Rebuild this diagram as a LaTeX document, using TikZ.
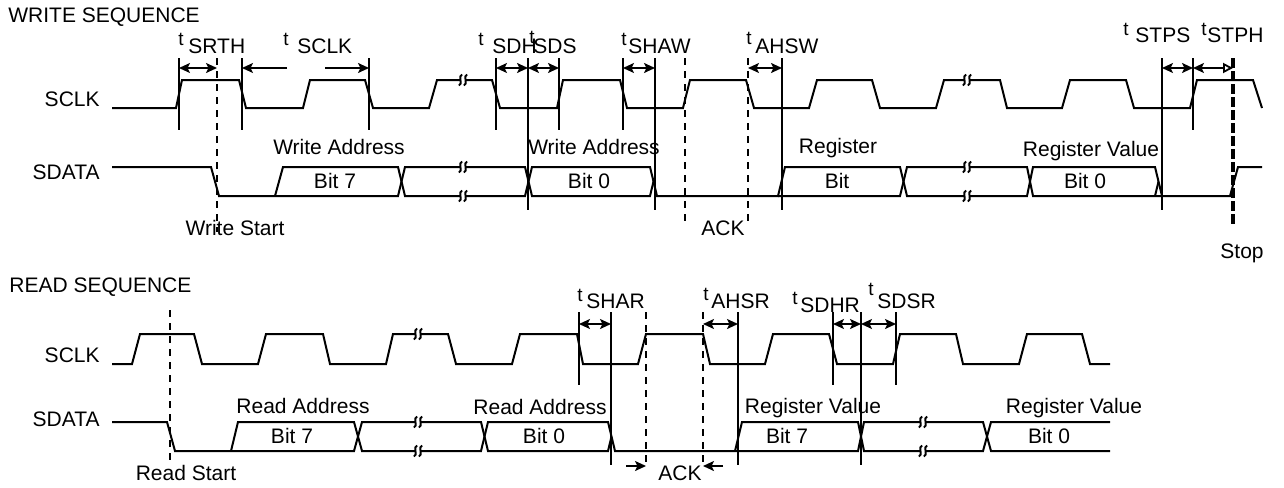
\documentclass[tikz,border=0pt]{standalone}
\usepackage{fontspec}
\setmainfont{Liberation Sans}
\usetikzlibrary{arrows.meta}
\begin{document}
\begin{tikzpicture}[x=0.5pt,y=-0.5pt,
  wave/.style={line width=1pt},
  tick/.style={line width=0.7pt},
  dsh/.style={line width=0.8pt,dash pattern=on 3.5pt off 3pt},
  stopdash/.style={line width=1.6pt,dash pattern=on 5pt off 1.5pt},
  tipa/.tip={Stealth[length=5.5pt,width=5pt,inset=1.2pt]},
  dim/.style={line width=0.9pt,tipa-tipa},
  lbl/.style={font=\fontsize{10.5}{12}\selectfont,inner sep=0pt,anchor=base},
  tl/.style={font=\fontsize{9.5}{11}\selectfont,inner sep=0pt,anchor=base west},
  nl/.style={font=\fontsize{10.5}{12}\selectfont,inner sep=0pt,anchor=base west},
  brk/.pic={\draw[line width=0.95pt] (1.6,-5.5) .. controls (-3.2,-4.5) and (3.2,4.5) .. (-1.6,5.5);
            \draw[line width=0.95pt] (6.6,-5.5) .. controls (1.8,-4.5) and (8.2,4.5) .. (3.4,5.5);}
]
\useasboundingbox (0,0) rectangle (1284,487);

% ---------------- titles and signal names
\node[nl] (wtitle) at (8,23) {WRITE SEQUENCE};
\node[nl] (rtitle) at (9,292) {READ SEQUENCE};
\node[lbl,anchor=base east] (wsclk) at (100,106) {SCLK};
\node[lbl,anchor=base east] (wsdata) at (100,179) {SDATA};
\node[lbl,anchor=base east] (rsclk) at (100,362) {SCLK};
\node[lbl,anchor=base east] (rsdata) at (100,426) {SDATA};

% ---------------- WRITE SCLK
\draw[wave] (112,108) -- (176,108) -- (182,80) -- (239,80) -- (246,108) -- (303,108) -- (310,80)
  -- (365,80) -- (373,108) -- (429,108) -- (437,80) -- (460.5,80);
\pic at (460.5,80) {brk};
\draw[wave] (465.5,80) -- (492,80) -- (500,108) -- (557,108) -- (563,80) -- (620,80) -- (627,108)
  -- (683,108) -- (690,80) -- (746,80) -- (754,108) -- (809,108) -- (817,80) -- (872,80) -- (880,108)
  -- (936,108) -- (944,80) -- (964.5,80);
\pic at (964.5,80) {brk};
\draw[wave] (969.5,80) -- (1000,80) -- (1007,108) -- (1062,108) -- (1070,80) -- (1126,80) -- (1134,108)
  -- (1190,108) -- (1197,80) -- (1253,80) -- (1262,108);

% ---------------- WRITE SDATA
\draw[wave] (112,167) -- (211,167) -- (219,196) -- (398,196) -- (405,167) -- (460.5,167);
\draw[wave] (275,196) -- (283,167) -- (398,167) -- (405,196) -- (460.5,196);
\pic at (460.5,167) {brk};
\pic at (460.5,196) {brk};
\draw[wave] (465.5,167) -- (525,167) -- (532,196) -- (650,196) -- (653.5,181.5);
\draw[wave] (465.5,196) -- (525,196) -- (532,167) -- (650,167) -- (657,196) -- (778,196) -- (785,167)
  -- (900,167) -- (907,196) -- (964.5,196);
\draw[wave] (778,196) -- (900,196) -- (907,167) -- (964.5,167);
\pic at (964.5,167) {brk};
\pic at (964.5,196) {brk};
\draw[wave] (969.5,167) -- (1027,167) -- (1033,196) -- (1230,196) -- (1238,167) -- (1262,167);
\draw[wave] (969.5,196) -- (1027,196) -- (1033,167) -- (1155,167) -- (1162,196);
\draw[wave] (1155,196) -- (1158.5,181.5);

% ---------------- WRITE timing markers
\foreach \x in {179,242,369,496,559,623,1193} \draw[tick] (\x,58) -- (\x,130);
\foreach \x in {528,655,782,1162} \draw[tick] (\x,58) -- (\x,210);
\draw[dsh] (217,58) -- (217,232);
\draw[dsh] (685,58) -- (685,222);
\draw[dsh] (748,58) -- (748,222);
\draw[stopdash] (1233,58) -- (1233,227);

\foreach \n/\x in {a/179,b/217,c/242,d/369,e/496,f/528,g/559,h/623,i/655,k/748,l/782,m/1162,n/1193,o/1233}
  \coordinate (w\n) at (\x,68);
\coordinate (wc1) at (287,68);
\coordinate (wd1) at (325,68);
\draw[dim] (wa) -- (wb);
\draw[line width=0.9pt,-tipa] (wc1) -- (wc);
\draw[line width=0.9pt,-tipa] (wd1) -- (wd);
\draw[dim] (we) -- (wf);
\draw[dim] (wf) -- (wg);
\draw[dim] (wh) -- (wi);
\draw[dim] (wk) -- (wl);
\draw[dim] (wm) -- (wn);
\draw[line width=0.9pt,tipa-{Triangle[open,length=5pt,width=5pt]}] (wn) -- (wo);

% ---------------- WRITE timing labels
\node[tl] (t1) at (178,45) {t};   \node[nl] (n1) at (188,54) {SRTH};
\node[tl] (t2) at (283,45) {t};   \node[nl] (n2) at (297,54) {SCLK};
\node[tl] (t3) at (478,45) {t};   \node[nl] (n3) at (492,54) {SDH};
\node[tl] (t4) at (529,43) {t};   \node[nl] (n4) at (533,54) {SDS};
\node[tl] (t5) at (621,45) {t};   \node[nl] (n5) at (628,54) {SHAW};
\node[tl] (t6) at (746,44) {t};   \node[nl] (n6) at (755,53) {AHSW};
\node[tl] (t7) at (1123,35) {t};  \node[nl] (n7) at (1135,42) {STPS};
\node[tl] (t8) at (1201,35) {t};  \node[nl] (n8) at (1207,42) {STPH};

% ---------------- WRITE data labels
\node[lbl] (wa1) at (339,154) {Write Address};
\node[lbl] (wb7) at (335,188) {Bit 7};
\node[lbl] (wa2) at (594,154) {Write Address};
\node[lbl] (wb0) at (589,188) {Bit 0};
\node[lbl] (wr1) at (838,153) {Register};
\node[lbl] (wrb) at (837,188) {Bit};
\node[lbl] (wr2) at (1091,156) {Register Value};
\node[lbl] (wrb0) at (1085,188) {Bit 0};
\node[lbl] (wst) at (235,235) {Write Start};
\node[lbl] (wack) at (723,235) {ACK};
\node[lbl] (wstop) at (1242,258) {Stop};

% ---------------- READ SCLK
\draw[wave] (112,364) -- (132,364) -- (140,334) -- (194,334) -- (202,364) -- (258,364) -- (266,334)
  -- (323,334) -- (330,364) -- (386,364) -- (393,334) -- (415.5,334);
\pic at (415.5,334) {brk};
\draw[wave] (420.5,334) -- (448,334) -- (456,364) -- (512,364) -- (520,334) -- (577,334) -- (583,364)
  -- (638,364) -- (646,334) -- (703,334) -- (710,364) -- (765,364) -- (773,334) -- (829,334) -- (837,364)
  -- (893,364) -- (900,334) -- (956,334) -- (963,364) -- (1019,364) -- (1027,334) -- (1082,334)
  -- (1090,364) -- (1110,364);

% ---------------- READ SDATA
\draw[wave] (112,422) -- (167,422) -- (175,451) -- (354,451) -- (362,422) -- (415.5,422);
\draw[wave] (231,451) -- (238,422) -- (354,422) -- (362,451) -- (415.5,451);
\pic at (415.5,422) {brk};
\pic at (415.5,451) {brk};
\draw[wave] (420.5,422) -- (481,422) -- (488,451) -- (608,451) -- (611.5,436.5);
\draw[wave] (420.5,451) -- (481,451) -- (488,422) -- (608,422) -- (615,451) -- (735,451) -- (858,451)
  -- (864,422) -- (920.5,422);
\draw[wave] (735,451) -- (742,422) -- (858,422) -- (864,451) -- (920.5,451);
\pic at (920.5,422) {brk};
\pic at (920.5,451) {brk};
\draw[wave] (925.5,422) -- (983,422) -- (991,451) -- (1110,451);
\draw[wave] (925.5,451) -- (983,451) -- (991,422) -- (1110,422);

% ---------------- READ timing markers
\foreach \x in {579,833,896} \draw[tick] (\x,312) -- (\x,385);
\foreach \x in {611,738,861} \draw[tick] (\x,312) -- (\x,465);
\draw[dsh] (170,310) -- (170,466);
\draw[dsh] (646,312) -- (646,468);
\draw[dsh] (703,312) -- (703,468);

\foreach \n/\x in {1/579,2/611,4/703,5/738,6/833,7/861,8/896}
  \coordinate (r\n) at (\x,324);
\draw[dim] (r1) -- (r2);
\draw[dim] (r4) -- (r5);
\draw[dim] (r6) -- (r7);
\draw[dim] (r7) -- (r8);
\coordinate (ra1) at (626,466);
\coordinate (ra2) at (646,466);
\coordinate (rb1) at (723,466);
\coordinate (rb2) at (703,466);
\draw[line width=0.9pt,-tipa] (ra1) -- (ra2);
\draw[line width=0.9pt,-tipa] (rb1) -- (rb2);

% ---------------- READ timing labels
\node[tl] (u1) at (577,301) {t};  \node[nl] (m1) at (586,308) {SHAR};
\node[tl] (u2) at (703,300) {t};  \node[nl] (m2) at (711,308) {AHSR};
\node[tl] (u3) at (792,304) {t};  \node[nl] (m3) at (800,312) {SDHR};
\node[tl] (u4) at (868,295) {t};  \node[nl] (m4) at (877,308) {SDSR};

% ---------------- READ data labels
\node[lbl] (ra) at (303,413) {Read Address};
\node[lbl] (rb7) at (292,443) {Bit 7};
\node[lbl] (rc) at (540,414) {Read Address};
\node[lbl] (rb0) at (544,443) {Bit 0};
\node[lbl] (rv1) at (813,413) {Register Value};
\node[lbl] (rv7) at (787,443) {Bit 7};
\node[lbl] (rv2) at (1074,413) {Register Value};
\node[lbl] (rv0) at (1049,443) {Bit 0};
\node[lbl] (rst) at (186,480) {Read Start};
\node[lbl] (rack) at (680,480) {ACK};
\end{tikzpicture}
\end{document}
